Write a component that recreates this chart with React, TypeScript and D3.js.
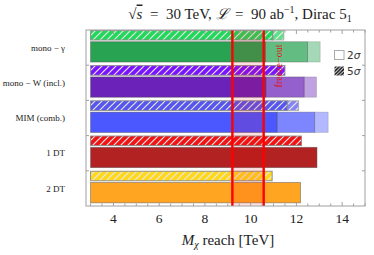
import { useEffect, useRef } from 'react'
import * as d3 from 'd3'

const categories = ['mono − γ', 'mono − W (incl.)', 'MIM (comb.)', '1 DT', '2 DT']
// segment end points of each bar (TeV); later segments drawn lighter
const reach5sigma = [[10.97, 11.45], [11.5], [11.6, 12.1], [12.22], [10.94]]
const reach2sigma = [[10.65, 12.49, 13.04], [10.67, 12.34, 12.88], [11.16, 12.8, 13.39], [12.9], [12.18]]
const colors5sigma = ['#22d85a', '#7a14ff', '#5656ee', '#f01414', '#ffd81a']
const colors2sigma = ['#27a352', '#6a22b8', '#4b57ff', '#b22222', '#ffa522']
const barStart = 3
const freezeOut = [9.2, 10.57]
const xDomain = [2.8, 15]
const xTicks = [4, 6, 8, 10, 12, 14]
const segOpacity = [1, 0.72, 0.42]

const W = 374
const H = 255
const serif = '"Liberation Serif", "DejaVu Serif", serif'

export default function App() {
  const svgRef = useRef<SVGSVGElement | null>(null)

  useEffect(() => {
    const svgElement = svgRef.current
    if (!svgElement) return
    const svg = d3.select(svgElement)
    svg.selectAll('*').remove()

    const plot = { left: 86, right: 365, top: 30, bottom: 206 }

    const x = d3.scaleLinear().domain(xDomain).range([plot.left, plot.right])
    const y = d3.scaleBand<string>().domain(categories).range([plot.top, plot.bottom])
    const bw = y.bandwidth()

    const defs = svg.append('defs')
    const hatch = defs
      .append('pattern')
      .attr('id', 'hatch')
      .attr('patternUnits', 'userSpaceOnUse')
      .attr('width', 7)
      .attr('height', 7)
    hatch
      .append('path')
      .attr('d', 'M-1,8 L8,-1 M-1,1 L1,-1 M6,8 L8,6')
      .attr('stroke', '#e6e6e6')
      .attr('stroke-width', 1.2)
    const hatchDark = defs
      .append('pattern')
      .attr('id', 'hatchDark')
      .attr('patternUnits', 'userSpaceOnUse')
      .attr('width', 3.5)
      .attr('height', 3.5)
    hatchDark.append('rect').attr('width', 3.5).attr('height', 3.5).attr('fill', '#fff')
    hatchDark
      .append('path')
      .attr('d', 'M-1,4.5 L4.5,-1 M-1,1 L1,-1 M2.5,4.5 L4.5,2.5')
      .attr('stroke', '#111')
      .attr('stroke-width', 1.6)

    const g = svg.append('g')

    categories.forEach((cat, i) => {
      const y0 = y(cat) as number
      // 5 sigma hatched bar
      const h5 = { top: y0 + bw * 0.012, bottom: y0 + bw * 0.284 }
      let prev = barStart
      reach5sigma[i].forEach((end, k) => {
        const r = g.append('g').attr('opacity', segOpacity[k])
        r.append('rect')
          .attr('x', x(prev))
          .attr('y', h5.top)
          .attr('width', x(end) - x(prev))
          .attr('height', h5.bottom - h5.top)
          .attr('fill', colors5sigma[i])
        r.append('rect')
          .attr('x', x(prev))
          .attr('y', h5.top)
          .attr('width', x(end) - x(prev))
          .attr('height', h5.bottom - h5.top)
          .attr('fill', 'url(#hatch)')
          .attr('stroke', '#8a8a8a')
          .attr('stroke-width', 0.9)
        prev = end
      })
      // 2 sigma solid bar
      const h2 = { top: y0 + bw * 0.333, bottom: y0 + bw * 0.91 }
      prev = barStart
      reach2sigma[i].forEach((end, k) => {
        g.append('rect')
          .attr('x', x(prev))
          .attr('y', h2.top)
          .attr('width', x(end) - x(prev))
          .attr('height', h2.bottom - h2.top)
          .attr('fill', colors2sigma[i])
          .attr('fill-opacity', segOpacity[k])
          .attr('stroke', '#555')
          .attr('stroke-opacity', 0.6 * segOpacity[k])
          .attr('stroke-width', 0.8)
        prev = end
      })
    })

    // freeze-out band
    g.append('rect')
      .attr('x', x(freezeOut[0]))
      .attr('y', plot.top)
      .attr('width', x(freezeOut[1]) - x(freezeOut[0]))
      .attr('height', plot.bottom - plot.top)
      .attr('fill', '#ff0000')
      .attr('fill-opacity', 0.12)
    freezeOut.forEach((v) => {
      g.append('line')
        .attr('x1', x(v))
        .attr('x2', x(v))
        .attr('y1', plot.top)
        .attr('y2', plot.bottom)
        .attr('stroke', '#ff0000')
        .attr('stroke-width', 2.4)
    })
    g.append('text')
      .attr('transform', `translate(${x(freezeOut[1]) + 18},${66}) rotate(-90)`)
      .attr('text-anchor', 'middle')
      .attr('font-family', serif)
      .attr('font-size', 10)
      .attr('fill', '#e01010')
      .text('freeze−out')

    // frame
    const frame = svg.append('g').attr('stroke', '#a0a0a0').attr('stroke-width', 1)
    frame
      .append('rect')
      .attr('x', plot.left)
      .attr('y', plot.top)
      .attr('width', plot.right - plot.left)
      .attr('height', plot.bottom - plot.top)
      .attr('fill', 'none')

    const minor = d3.range(3, 15.01, 0.5)
    minor.forEach((v) => {
      const len = xTicks.includes(v) ? 4 : 2.5
      frame.append('line').attr('x1', x(v)).attr('x2', x(v)).attr('y1', plot.bottom).attr('y2', plot.bottom - len)
      frame.append('line').attr('x1', x(v)).attr('x2', x(v)).attr('y1', plot.top).attr('y2', plot.top + len)
    })
    categories.slice(1).forEach((cat) => {
      const yy = y(cat) as number
      frame.append('line').attr('x1', plot.left).attr('x2', plot.left + 3).attr('y1', yy).attr('y2', yy)
      frame.append('line').attr('x1', plot.right).attr('x2', plot.right - 3).attr('y1', yy).attr('y2', yy)
    })

    // x tick labels
    svg
      .append('g')
      .selectAll('text')
      .data(xTicks)
      .join('text')
      .attr('x', (d) => x(d))
      .attr('y', 222.5)
      .attr('text-anchor', 'middle')
      .attr('font-family', serif)
      .attr('font-size', 13.5)
      .attr('fill', '#222')
      .text((d) => d)

    // category labels
    svg
      .append('g')
      .selectAll('text')
      .data(categories)
      .join('text')
      .attr('x', 65)
      .attr('y', (d) => (y(d) as number) + bw / 2)
      .attr('dy', '0.35em')
      .attr('text-anchor', 'end')
      .attr('font-family', serif)
      .attr('font-size', 9)
      .attr('fill', '#222')
      .text((d) => d)

    // x label
    const xl = svg
      .append('text')
      .attr('x', 228)
      .attr('y', 245)
      .attr('text-anchor', 'middle')
      .attr('font-family', serif)
      .attr('font-size', 15)
      .attr('fill', '#222')
    xl.append('tspan').attr('font-style', 'italic').text('M')
    xl.append('tspan').attr('font-style', 'italic').attr('font-size', 10).attr('dy', 3).text('χ')
    xl.append('tspan').attr('dy', -3).text(' reach [TeV]')

    // title
    const t = svg
      .append('text')
      .attr('x', 240)
      .attr('y', 18.5)
      .attr('text-anchor', 'middle')
      .attr('font-family', serif)
      .attr('font-size', 15)
      .attr('fill', '#222')
      .attr('xml:space', 'preserve')
      .style('white-space', 'pre')
    t.append('tspan').text('√')
    t.append('tspan').attr('font-style', 'italic').attr('text-decoration', 'overline').text('s')
    t.append('tspan').text('  =  30 TeV, ')
    t.append('tspan').attr('font-style', 'italic').text('ℒ')
    t.append('tspan').text('  =  90 ab')
    t.append('tspan').attr('font-size', 10).attr('dy', -6).text('−1')
    t.append('tspan').attr('dy', 6).text(', Dirac 5')
    t.append('tspan').attr('font-size', 10).attr('dy', 3).text('1')

    // legend
    const lg = svg.append('g')
    lg.append('rect')
      .attr('x', 334.5)
      .attr('y', 50.5)
      .attr('width', 9.5)
      .attr('height', 9)
      .attr('fill', '#fff')
      .attr('stroke', '#aaa')
    lg.append('rect')
      .attr('x', 334.5)
      .attr('y', 66.5)
      .attr('width', 9.5)
      .attr('height', 9)
      .attr('fill', 'url(#hatchDark)')
    const legendText = [
      { y: 59, n: '2' },
      { y: 75, n: '5' },
    ]
    legendText.forEach((d) => {
      const tx = lg
        .append('text')
        .attr('x', 347)
        .attr('y', d.y)
        .attr('font-family', '"DejaVu Sans", sans-serif')
        .attr('font-size', 10.5)
        .attr('fill', '#333')
      tx.append('tspan').text(d.n)
      tx.append('tspan').attr('font-style', 'italic').text('σ')
    })
  }, [])

  return (
    <svg
      ref={svgRef}
      width={W}
      height={H}
      style={{ position: 'absolute', left: 0, top: 0, background: '#fff' }}
    />
  )
}
